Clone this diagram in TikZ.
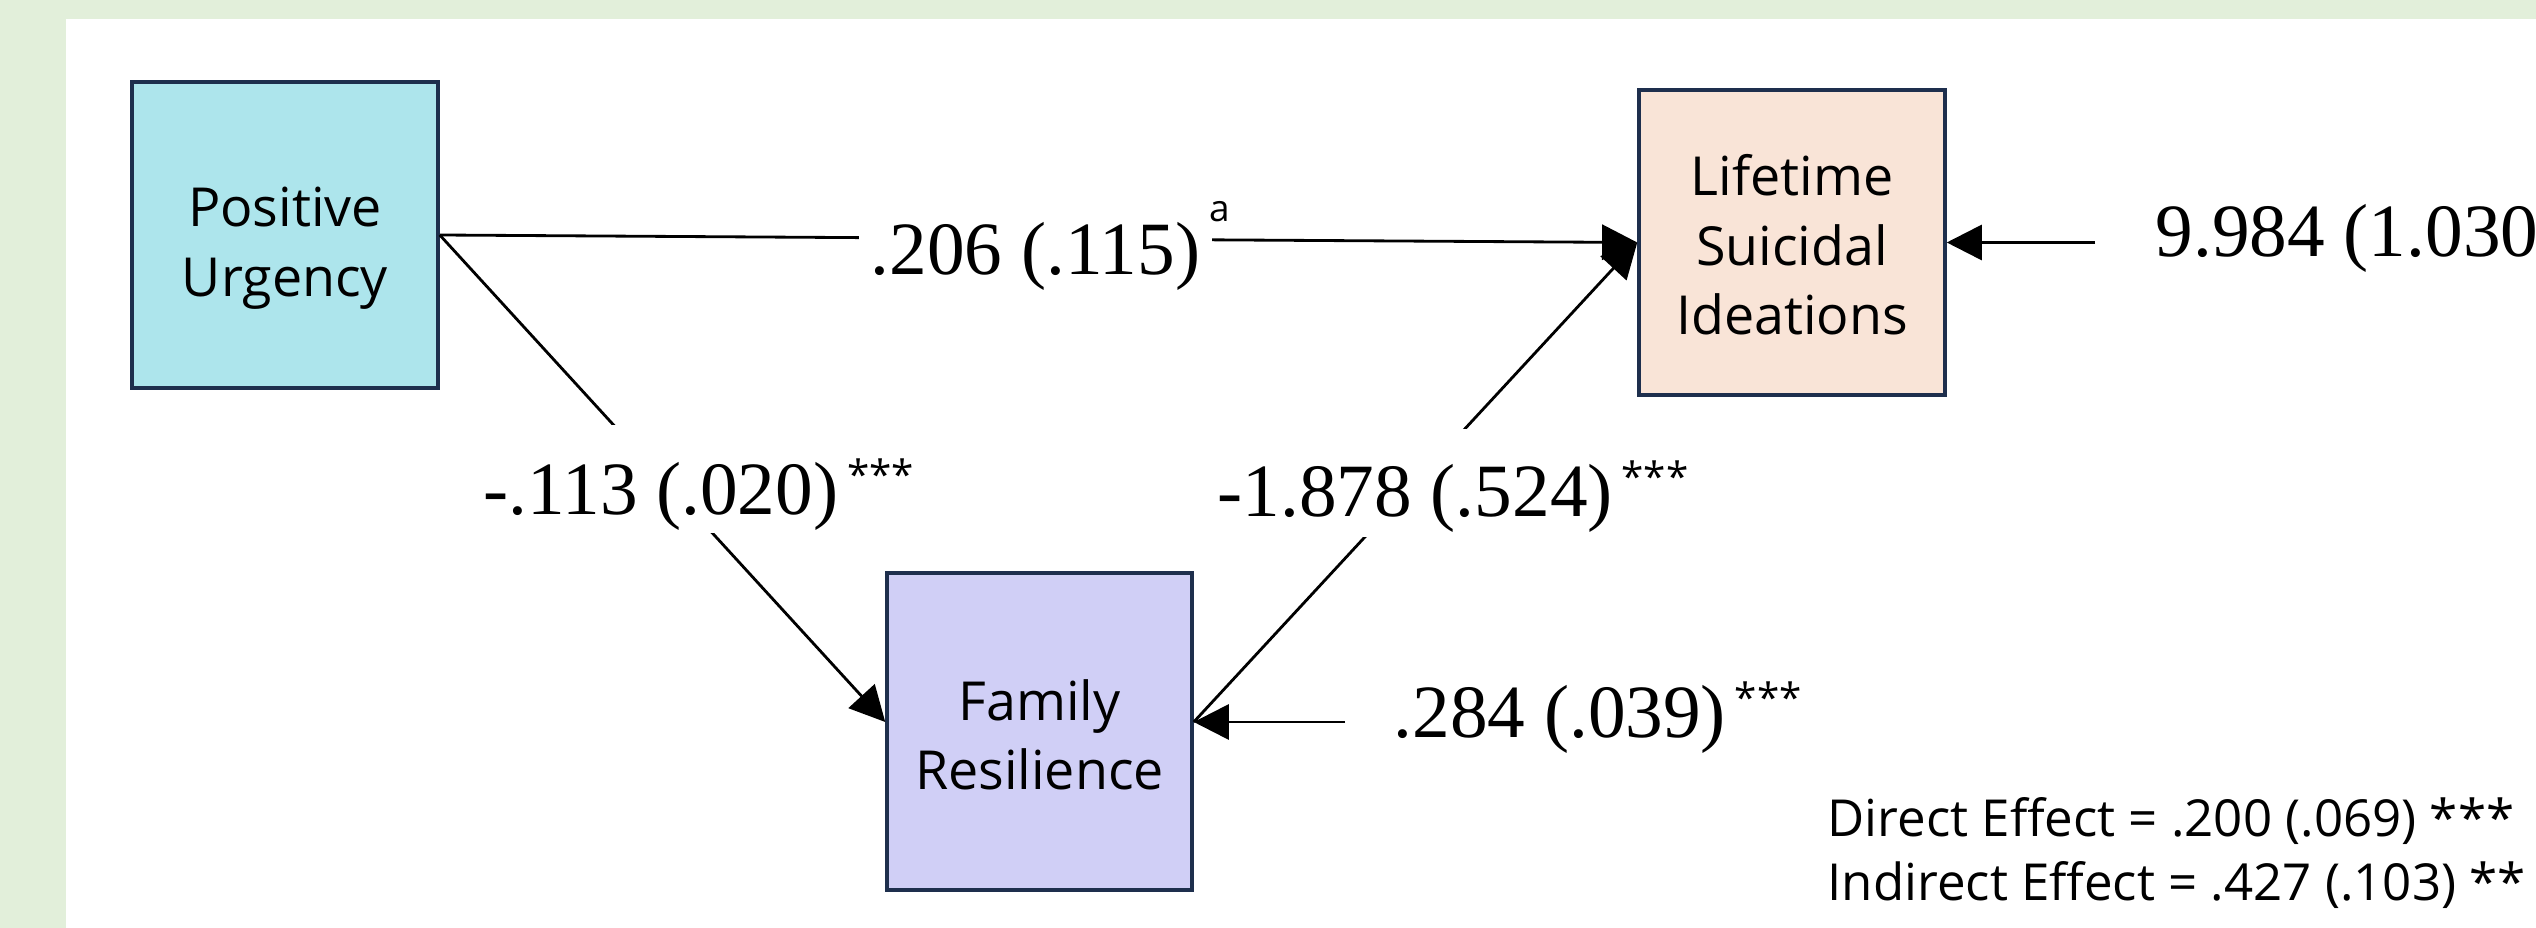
\documentclass[tikz,border=0pt]{standalone}
\usepackage{fontspec}
\usetikzlibrary{arrows.meta}
\newfontfamily\numfont{Liberation Serif}
\newfontfamily\labfont{Open Sans}
\newlength\pxu
\setlength\pxu{0.01cm}
\definecolor{pageGreen}{HTML}{E2EFDA}
\definecolor{urgFill}{HTML}{ADE5EC}
\definecolor{ideaFill}{HTML}{F9E4D7}
\definecolor{famFill}{HTML}{D0CFF6}
\definecolor{boxLine}{HTML}{1E2F4D}
% significance stars raised after a coefficient
\newcommand{\sigmark}[1]{\hspace{2.5pt}\raisebox{7.3pt}{\labfont\fontsize{11.5}{11.5}\selectfont #1}}
\begin{document}
\begin{tikzpicture}[x=0.01cm, y=-0.01cm,
  varbox/.style={draw=boxLine, line width=1pt, inner sep=0pt},
  boxtext/.style={align=center, inner sep=0pt,
    font=\labfont\fontsize{15.3}{19.8}\selectfont},
  coef/.style={inner sep=0pt, fill=white, anchor=base west,
    font=\numfont\fontsize{21.4}{24}\selectfont},
  efftext/.style={inner sep=0pt, anchor=base west,
    font=\labfont\fontsize{14.5}{17}\selectfont},
  conn/.style={line width=0.8pt, -{Triangle[length=10pt,width=10pt]}}
]
% page frame
\fill[pageGreen] (0,0) rectangle (2536,928);
\fill[white] (66,19) rectangle (2536,928);
\useasboundingbox (0,0) rectangle (2536,928);

% variables
\node[varbox, fill=urgFill, minimum width=306\pxu, minimum height=306\pxu] (pu) at (285,235) {};
\node[varbox, fill=ideaFill, minimum width=306\pxu, minimum height=305\pxu] (lsi) at (1792,242.5) {};
\node[varbox, fill=famFill, minimum width=305\pxu, minimum height=317\pxu] (fr) at (1039.5,731.5) {};

\node[boxtext] (pu-t) at (285,248) {Positive\\Urgency};
\node[boxtext] (lsi-t) at (1792,245) {Lifetime\\Suicidal\\Ideations};
\node[boxtext] (fr-t) at (1039.5,735) {Family\\Resilience};

% paths
\draw[conn] (pu.east) -- (lsi.west);
\draw[conn] (pu.east) -- ([yshift=9.5\pxu]fr.west);
\draw[conn] ([yshift=9.5\pxu]fr.east) -- (lsi.west);

% residual variances
\coordinate (res-lsi) at (2095,242.5);
\coordinate (res-fr) at (1345,722);
\draw[conn] (res-lsi) -- (lsi.east);
\draw[conn] (res-fr) -- ([yshift=9.5\pxu]fr.east);

% path coefficients
\node[coef, inner xsep=3.4pt] (c-direct) at (858,275)
  {.206 (.115)\rlap{\hspace{2.6pt}\raisebox{15.2pt}{\labfont\fontsize{10.5}{10.5}\selectfont a}}};
\node[coef, text height=25.5pt, text depth=5.1pt] (c-a) at (483,515) {-.113 (.020)\sigmark{***}};
\node[coef, text height=25pt, text depth=5.7pt] (c-b) at (1217,517) {-1.878 (.524)\sigmark{***}};
\node[coef, fill=none] (v-fr) at (1393,738) {.284 (.039)\sigmark{***}};
\node[coef, fill=none] (v-lsi) at (2155,257) {9.984 (1.030};

% effects summary
\node[efftext] (eff-d) at (1827,837) {Direct Effect = .200 (.069) ***};
\node[efftext] (eff-i) at (1827,900) {Indirect Effect = .427 (.103) **};
\end{tikzpicture}
\end{document}
